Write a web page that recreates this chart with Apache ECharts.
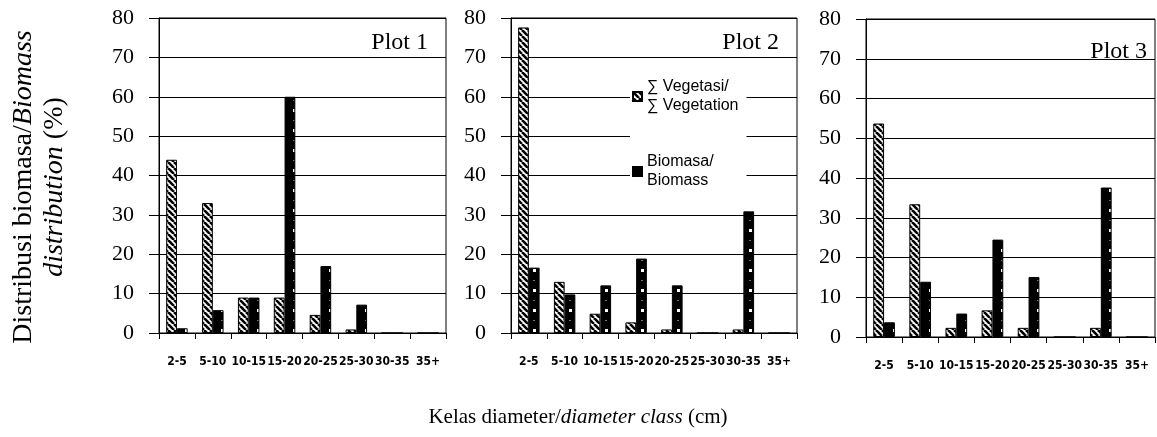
<!DOCTYPE html>
<html>
<head>
<meta charset="utf-8">
<script src="https://cdn.jsdelivr.net/npm/echarts@6/dist/echarts.min.js"></script>
<style>
  html, body { margin: 0; padding: 0; background: #fff; }
  #chart { width: 1157px; height: 437px; }
</style>
</head>
<body>
<div id="chart"></div>
<script>
// diameter classes (cm)
const classes = ['2-5', '5-10', '10-15', '15-20', '20-25', '25-30', '30-35', '35+'];
const yTicks = [0, 10, 20, 30, 40, 50, 60, 70, 80];

// % of vegetation count per class
const vegPlot1 = [44, 33, 9, 9, 4.6, 0.9, 0, 0];
const vegPlot2 = [77.6, 13, 4.9, 2.7, 0.9, 0, 0.9, 0];
const vegPlot3 = [53.7, 33.4, 2.3, 6.7, 2.3, 0, 2.3, 0];

// % of biomass per class
const bioPlot1 = [1.2, 5.8, 9, 60, 17, 7.2, 0, 0];
const bioPlot2 = [16.6, 9.8, 12.1, 18.9, 12.1, 0, 30.9, 0];
const bioPlot3 = [3.7, 13.9, 5.9, 24.5, 15.1, 0, 37.6, 0];

const plotNames = ['Plot 1', 'Plot 2', 'Plot 3'];
const vegName = '\u2211 Vegetasi/\n\u2211 Vegetation';
const bioName = 'Biomasa/\nBiomass';

// hatch patterns
const makeStripes = () => {
  const c = document.createElement('canvas');
  c.width = 6; c.height = 6;
  const ctx = c.getContext('2d');
  ctx.fillStyle = '#fff';
  ctx.fillRect(0, 0, 6, 6);
  ctx.strokeStyle = '#000';
  ctx.lineWidth = 2.6;
  [-6, 0, 6].forEach((o) => {
    ctx.beginPath();
    ctx.moveTo(o, 0);
    ctx.lineTo(o + 6, 6);
    ctx.stroke();
  });
  return c;
};

const makeDots = () => {
  const c = document.createElement('canvas');
  c.width = 12; c.height = 20;
  const ctx = c.getContext('2d');
  ctx.fillStyle = '#000';
  ctx.fillRect(0, 0, 12, 20);
  ctx.fillStyle = '#fff';
  ctx.fillRect(5, 9, 3, 3);
  ctx.fillStyle = '#777';
  ctx.fillRect(5, 0, 2, 1);
  return c;
};

const stripeFill = { image: makeStripes(), repeat: 'repeat' };
const dotFill = { image: makeDots(), repeat: 'repeat' };

const grids = [
  { left: 159, top: 18, width: 287, height: 315 },
  { left: 511, top: 18, width: 286, height: 315 },
  { left: 866, top: 19, width: 289, height: 318 },
];
const plotLabelPos = [[428, 43], [779, 43], [1147, 52]];
const vegData = [vegPlot1, vegPlot2, vegPlot3];
const bioData = [bioPlot1, bioPlot2, bioPlot3];

const serif = 'Liberation Serif, Times New Roman, serif';
const titleRich = (size) => ({
  n: { fontFamily: serif, fontSize: size, fill: '#000' },
  i: { fontFamily: serif, fontSize: size, fontStyle: 'italic', fill: '#000' },
});

const chart = echarts.init(document.getElementById('chart'), null, { renderer: 'canvas' });

const option = {
  animation: false,
  backgroundColor: '#fff',
  grid: grids.map((g) => ({
    ...g,
    show: true,
    borderColor: '#000',
    borderWidth: 1,
    backgroundColor: 'transparent',
  })),
  xAxis: grids.map((g, i) => ({
    type: 'category',
    gridIndex: i,
    data: classes,
    axisLine: { lineStyle: { color: '#000', width: 1 } },
    axisTick: { show: true, length: 6, interval: 0, lineStyle: { color: '#000' } },
    axisLabel: {
      interval: 0,
      margin: 23,
      color: '#000',
      fontFamily: 'DejaVu Sans Condensed, DejaVu Sans',
      fontWeight: 'bold',
      fontSize: 12,
    },
    splitLine: { show: false },
  })),
  yAxis: grids.map((g, i) => ({
    type: 'value',
    gridIndex: i,
    min: yTicks[0],
    max: yTicks[yTicks.length - 1],
    interval: 10,
    axisLine: { show: true, lineStyle: { color: '#000', width: 1 } },
    axisTick: { show: true, length: 10, lineStyle: { color: '#000' } },
    axisLabel: { margin: 25, color: '#000', fontFamily: serif, fontSize: 22 },
    splitLine: { show: true, lineStyle: { color: '#000', width: 1 } },
  })),
  legend: {
    orient: 'vertical',
    left: 630,
    top: 68,
    itemWidth: 9,
    itemHeight: 9,
    itemGap: 18,
    padding: [0, 8, 6, 2],
    backgroundColor: '#fff',
    icon: 'rect',
    data: [vegName, bioName],
    textStyle: {
      fontFamily: 'Liberation Sans, Arial, sans-serif',
      fontSize: 16,
      lineHeight: 19,
      color: '#000',
      padding: [19, 0, 0, 0],
    },
  },
  series: [],
  graphic: [],
};

for (let i = 0; i < 3; i++) {
  option.series.push({
    name: vegName,
    type: 'bar',
    xAxisIndex: i,
    yAxisIndex: i,
    data: vegData[i],
    barWidth: '30%',
    barGap: '0%',
    itemStyle: { color: stripeFill, borderColor: '#000', borderWidth: 1 },
  });
  option.series.push({
    name: bioName,
    type: 'bar',
    xAxisIndex: i,
    yAxisIndex: i,
    data: bioData[i],
    barWidth: '30%',
    barGap: '0%',
    itemStyle: { color: dotFill, borderColor: '#000', borderWidth: 1 },
  });
  option.graphic.push({
    type: 'text',
    x: plotLabelPos[i][0],
    y: plotLabelPos[i][1],
    z: 100,
    style: {
      text: plotNames[i],
      font: '24px ' + serif,
      fill: '#000',
      align: 'right',
      verticalAlign: 'middle',
    },
  });
}

// axis titles
option.graphic.push(
  {
    type: 'text',
    x: 24,
    y: 187,
    rotation: Math.PI / 2,
    style: {
      text: '{n|Distribusi biomasa/}{i|Biomass}',
      align: 'center',
      verticalAlign: 'middle',
      rich: titleRich(28),
    },
  },
  {
    type: 'text',
    x: 55,
    y: 187,
    rotation: Math.PI / 2,
    style: {
      text: '{i|distribution}{n| (%)}',
      align: 'center',
      verticalAlign: 'middle',
      rich: titleRich(28),
    },
  },
  {
    type: 'text',
    x: 578,
    y: 417,
    style: {
      text: '{n|Kelas diameter/}{i|diameter class}{n| (cm)}',
      align: 'center',
      verticalAlign: 'middle',
      rich: titleRich(21),
    },
  }
);

chart.setOption(option);
</script>
</body>
</html>
